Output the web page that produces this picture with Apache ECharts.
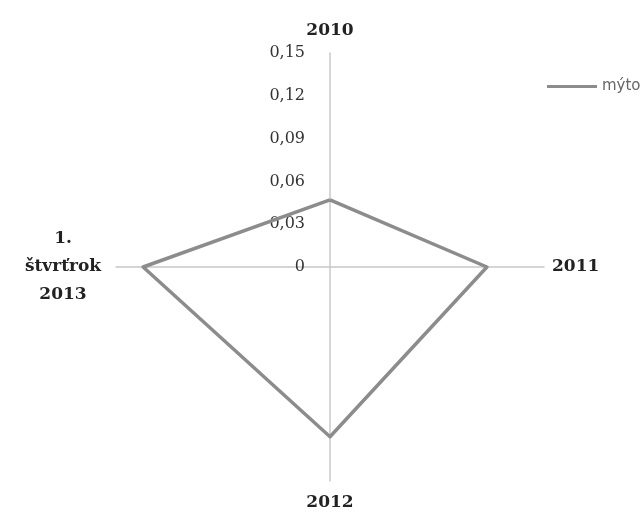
<!DOCTYPE html>
<html><head><meta charset="utf-8">
<script src="https://cdn.jsdelivr.net/npm/echarts@6/dist/echarts.min.js"></script>
<style>html,body{margin:0;padding:0;background:#fff}#c{width:641px;height:514px}</style>
</head><body><div id="c"></div>
<script>
const categories = ['2010', '2011', '2012', '1.\nštvrťrok\n2013'];
const seriesName = 'mýto';
const values = [0.047, 0.110, 0.119, 0.131];
const tickLabels = ['0', '0,03', '0,06', '0,09', '0,12', '0,15'];
const axisMax = 0.15;
const tickStep = 0.03;

// ECharts radar places indicators counter-clockwise from the top;
// the reference runs clockwise (2010 top, 2011 right, 2012 bottom, 2013 left).
const order = [0, 3, 2, 1];

const chart = echarts.init(document.getElementById('c'), null, {renderer: 'canvas'});
const center = [330, 267];
const radius = 214;
chart.setOption({
  animation: false,
  textStyle: {fontFamily: 'DejaVu Serif'},
  legend: {
    data: [seriesName], left: 542, top: 74, itemWidth: 50, itemHeight: 20,
    icon: 'path://M0,8.5L50,8.5L50,11.5L0,11.5Z',
    textStyle: {fontFamily: 'DejaVu Sans', fontSize: 15, color: '#666'}
  },
  radar: {
    center: center, radius: radius, startAngle: 90, shape: 'polygon', splitNumber: 5,
    indicator: order.map(i => ({name: categories[i], max: axisMax, min: 0})),
    axisName: {
      color: '#222', fontFamily: 'DejaVu Serif', fontWeight: 'bold', fontSize: 17, lineHeight: 28,
      formatter: (name) => name.indexOf('\n') < 0 ? name
        : name.split('\n').map(l => '{c|' + l + '}').join('\n'),
      rich: {c: {fontFamily: 'DejaVu Serif', fontWeight: 'bold', fontSize: 17, lineHeight: 28, color: '#222', align: 'center', width: 90}}
    },
    nameGap: 8,
    axisLine: {lineStyle: {color: '#c8c8c8', width: 1.5}},
    splitLine: {show: false},
    splitArea: {show: false},
    axisTick: {show: false},
    axisLabel: {show: false}
  },
  polar: {center: center, radius: radius},
  angleAxis: {show: false, startAngle: 90, min: 0, max: 360},
  radiusAxis: {
    min: 0, max: axisMax, interval: tickStep,
    axisLine: {show: false}, axisTick: {show: false}, splitLine: {show: false},
    axisLabel: {
      show: true, margin: 25, color: '#333', fontFamily: 'DejaVu Serif', fontSize: 16,
      formatter: (v) => tickLabels[Math.round(v / tickStep)]
    }
  },
  series: [{
    type: 'radar', name: seriesName, symbol: 'none',
    lineStyle: {color: '#8c8c8c', width: 3.5},
    itemStyle: {color: '#8c8c8c'},
    data: [{value: order.map(i => values[i]), name: seriesName}]
  }]
});
</script></body></html>
